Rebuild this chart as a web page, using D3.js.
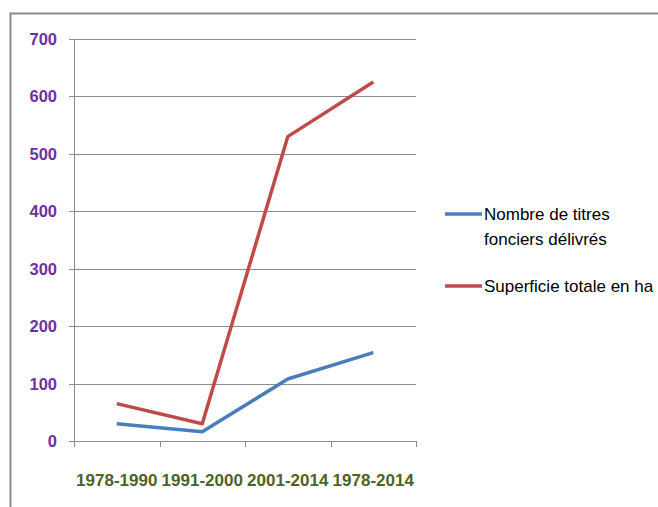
<!DOCTYPE html>
<html><head><meta charset="utf-8">
<script src="https://cdn.jsdelivr.net/npm/d3@7"></script>
<style>body{margin:0;background:#fff}svg{display:block}</style>
</head><body>
<script>
const categories = ["1978-1990","1991-2000","2001-2014","1978-2014"];
const seriesNames = ["Nombre de titres fonciers délivrés","Superficie totale en ha"];
const titres = [30, 16, 108, 154];
const superficie = [65, 30, 530, 625];
const yTicks = [0,100,200,300,400,500,600,700];
const colors = ["#4A7EBB","#BE4B48"];

const W=658,H=507;
const svg=d3.select("body").append("svg").attr("width",W).attr("height",H);
const font="'Liberation Sans',Arial,sans-serif";

// frame
svg.append("path").attr("d","M10.5,507 V13.5 H658").attr("fill","none").attr("stroke","#8a8a8a").attr("stroke-width",2);

const x=d3.scaleBand().domain(categories).range([74,416]).padding(0);
const y=d3.scaleLinear().domain([0,700]).range([441,39]);

// gridlines
svg.append("g").selectAll("line").data(yTicks).join("line")
  .attr("x1",69).attr("x2",416).attr("y1",d=>Math.round(y(d))+0.5).attr("y2",d=>Math.round(y(d))+0.5)
  .attr("stroke","#8c8c8c").attr("stroke-width",1);
// y axis line
svg.append("line").attr("x1",74.5).attr("x2",74.5).attr("y1",39).attr("y2",441).attr("stroke","#8c8c8c");
// x ticks
const xt=categories.map(c=>x(c)).concat([x.range()[1]]);
svg.append("g").selectAll("line").data(xt).join("line")
  .attr("x1",d=>Math.round(d)+0.5).attr("x2",d=>Math.round(d)+0.5).attr("y1",441).attr("y2",447)
  .attr("stroke","#8c8c8c");

// y labels
svg.append("g").selectAll("text").data(yTicks).join("text")
  .attr("x",57).attr("y",d=>y(d)+6).attr("text-anchor","end")
  .attr("font-family",font).attr("font-weight","bold").attr("font-size",16.5)
  .attr("fill","#7030A0").text(d=>d);
// x labels
svg.append("g").selectAll("text").data(categories).join("text")
  .attr("x",d=>x(d)+x.bandwidth()/2).attr("y",486).attr("text-anchor","middle")
  .attr("font-family",font).attr("font-weight","bold").attr("font-size",17)
  .attr("fill","#4F6228").text(d=>d);

const line=d3.line().x((d,i)=>x(categories[i])+x.bandwidth()/2).y(d=>y(d));
[titres,superficie].forEach((s,k)=>{
  svg.append("path").datum(s).attr("d",line).attr("fill","none")
    .attr("stroke",colors[k]).attr("stroke-width",3.5).attr("stroke-linejoin","round");
});

// legend
const lg=svg.append("g").attr("font-family",font).attr("font-size",17).attr("fill","#000");
lg.append("line").attr("x1",445).attr("x2",482).attr("y1",214).attr("y2",214).attr("stroke",colors[0]).attr("stroke-width",3.5);
lg.append("text").attr("x",484).attr("y",220).text("Nombre de titres");
lg.append("text").attr("x",484).attr("y",245).text("fonciers délivrés");
lg.append("line").attr("x1",445).attr("x2",482).attr("y1",286).attr("y2",286).attr("stroke",colors[1]).attr("stroke-width",3.5);
lg.append("text").attr("x",484).attr("y",292).text("Superficie totale en ha");
</script>
</body></html>
